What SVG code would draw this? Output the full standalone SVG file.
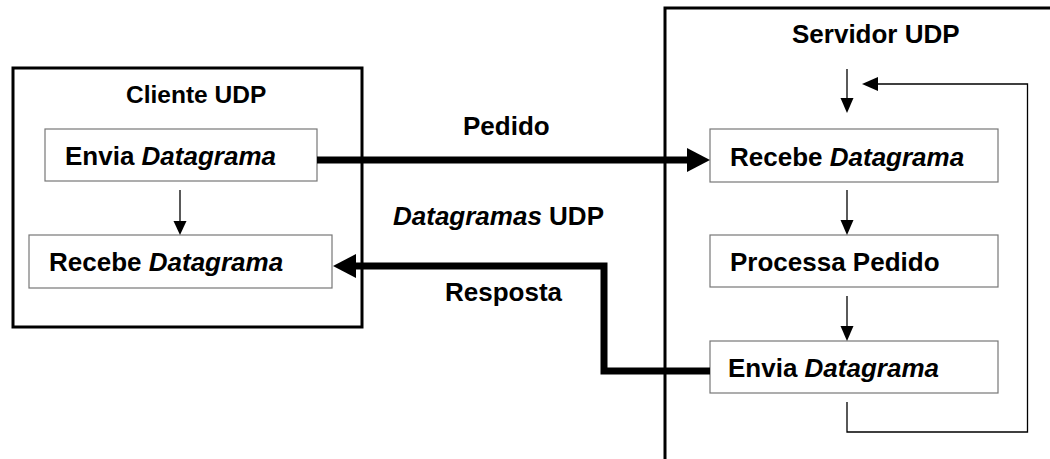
<svg xmlns="http://www.w3.org/2000/svg" width="1050" height="459" viewBox="0 0 1050 459">
  <style>
    .frame { fill: none; stroke: #000; stroke-width: 3; }
    .step { fill: #fff; stroke: #777; stroke-width: 1.2; }
    .lbl { font-family: "Liberation Sans", Arial, sans-serif; font-weight: bold; font-size: 26px; fill: #000; }
    .it { font-style: italic; }
    .thin { fill: none; stroke: #000; stroke-width: 1.3; }
    .thick { fill: none; stroke: #000; stroke-width: 7; stroke-linejoin: miter; }
    .head { fill: #000; }
  </style>
  <rect width="1050" height="459" fill="#fff"/>

  <!-- client container -->
  <g id="client">
    <rect class="frame" x="13" y="68" width="349" height="259"/>
    <text class="lbl" x="126" y="103" style="font-size:24.5px">Cliente UDP</text>
  </g>

  <!-- server container (open to the right and bottom) -->
  <g id="server">
    <path class="frame" d="M665 462 V8 H1053"/>
    <text class="lbl" x="792" y="43">Servidor UDP</text>
  </g>

  <g id="client-send">
    <rect class="step" x="45" y="129" width="272" height="52"/>
    <text class="lbl" x="65" y="165">Envia <tspan class="it">Datagrama</tspan></text>
  </g>
  <g id="client-receive">
    <rect class="step" x="29" y="235" width="303" height="53"/>
    <text class="lbl" x="49" y="271">Recebe <tspan class="it">Datagrama</tspan></text>
  </g>

  <g id="server-receive">
    <rect class="step" x="710" y="129" width="288" height="53"/>
    <text class="lbl" x="730" y="166">Recebe <tspan class="it">Datagrama</tspan></text>
  </g>
  <g id="server-process">
    <rect class="step" x="710" y="235" width="288" height="52"/>
    <text class="lbl" x="730" y="271">Processa Pedido</text>
  </g>
  <g id="server-send">
    <rect class="step" x="710" y="341" width="288" height="52"/>
    <text class="lbl" x="728" y="377">Envia <tspan class="it">Datagrama</tspan></text>
  </g>

  <!-- connectors -->
  <g id="connectors">
    <!-- client flow -->
    <line class="thin" x1="180" y1="190" x2="180" y2="222"/>
    <polygon class="head" points="173.5,221 186.5,221 180,235"/>

    <!-- server flow -->
    <line class="thin" x1="847" y1="69" x2="847" y2="99"/>
    <polygon class="head" points="840.5,98 853.5,98 847,113"/>
    <line class="thin" x1="847" y1="190" x2="847" y2="221"/>
    <polygon class="head" points="840.5,220 853.5,220 847,235"/>
    <line class="thin" x1="847" y1="296" x2="847" y2="327"/>
    <polygon class="head" points="840.5,326 853.5,326 847,341"/>

    <!-- server loop back to the top -->
    <path class="thin" d="M847 402 V432 H1027.5 V84 H877"/>
    <polygon class="head" points="878,77 878,91 862,84"/>

    <!-- request datagram -->
    <line class="thick" x1="317" y1="160" x2="688" y2="160"/>
    <polygon class="head" points="687,148 710,160 687,172"/>

    <!-- response datagram -->
    <path class="thick" d="M710 371 H604 V266 H355"/>
    <polygon class="head" points="356,254 333,266 356,278"/>
  </g>

  <!-- channel labels -->
  <text class="lbl" x="463" y="135">Pedido</text>
  <text class="lbl" x="393" y="225"><tspan class="it">Datagramas</tspan> UDP</text>
  <text class="lbl" x="445" y="301">Resposta</text>
</svg>
